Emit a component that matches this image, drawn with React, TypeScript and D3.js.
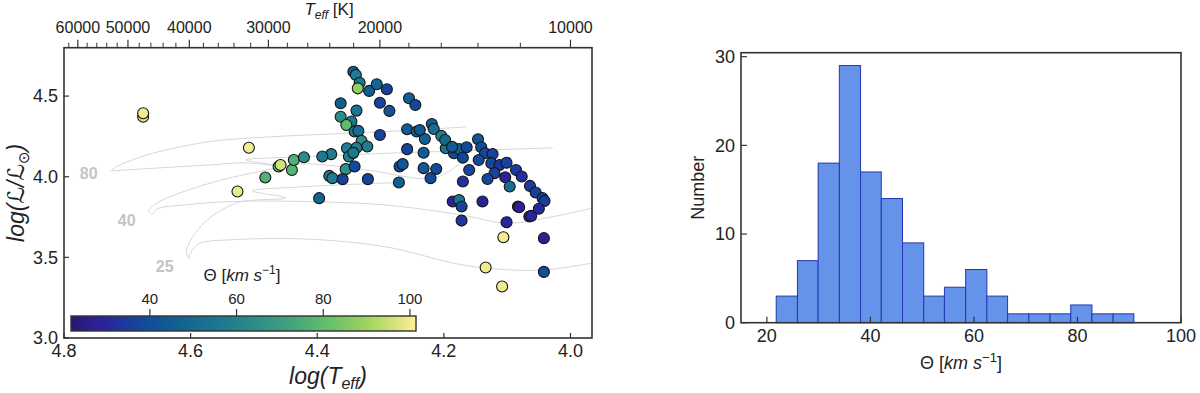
import React from 'react';
import * as d3 from 'd3';

// ---- scatter (HR diagram) ----
const logTeff = [
  4.675, 4.675, 4.508, 4.482, 4.526, 4.461, 4.458, 4.440, 4.437, 4.421, 4.397,
  4.343, 4.339, 4.333, 4.336, 4.318, 4.306, 4.290, 4.363, 4.301, 4.286, 4.255, 4.245,
  4.338, 4.363, 4.346, 4.354, 4.341, 4.335, 4.330, 4.321, 4.353, 4.338, 4.350, 4.343,
  4.301, 4.258, 4.243, 4.230, 4.219, 4.216, 4.204, 4.197, 4.184, 4.176, 4.170, 4.164,
  4.146, 4.141, 4.135, 4.123, 4.145, 4.160, 4.125, 4.112, 4.101, 4.086, 4.077, 4.064,
  4.055, 4.044, 4.041, 4.120, 4.131, 4.103, 4.096, 4.083, 4.170, 4.378, 4.392, 4.355,
  4.341, 4.381, 4.376, 4.360, 4.320, 4.271, 4.270, 4.265, 4.232, 4.212, 4.221, 4.232,
  4.258, 4.186, 4.176, 4.172, 4.139, 4.172, 4.101, 4.081, 4.065, 4.062, 4.050, 4.106,
  4.042, 4.134, 4.042, 4.108, 4.238, 4.198, 4.187,
];
const logLum = [
  4.372, 4.394, 4.180, 3.995, 3.908, 4.063, 4.073, 4.042, 4.104, 4.121, 3.867,
  4.651, 4.631, 4.583, 4.548, 4.532, 4.573, 4.542, 4.456, 4.459, 4.408, 4.487, 4.445,
  4.410, 4.372, 4.342, 4.321, 4.280, 4.284, 4.222, 4.187, 4.177, 4.180, 4.125, 4.148,
  4.259, 4.294, 4.280, 4.234, 4.327, 4.296, 4.253, 4.177, 4.146, 4.171, 4.118, 4.183,
  4.232, 4.183, 4.146, 4.141, 4.104, 4.042, 4.084, 4.073, 4.087, 4.042, 4.001, 3.943,
  3.902, 3.867, 3.850, 4.022, 3.986, 3.997, 3.939, 3.815, 3.970, 4.140, 4.125, 4.047,
  4.063, 4.005, 3.991, 3.985, 3.985, 3.964, 4.063, 4.078, 4.053, 4.048, 3.991, 4.149,
  4.171, 3.846, 3.856, 3.815, 3.846, 3.728, 3.718, 3.811, 3.753, 3.757, 3.801, 3.625,
  3.619, 3.437, 3.410, 3.319, 4.290, 4.228, 4.185,
];
const theta = [
  97, 100, 100, 76, 99, 80, 96, 78, 76, 64, 48,
  42, 58, 55, 88, 45, 48, 36, 46, 36, 43, 46, 38,
  54, 64, 56, 80, 56, 52, 64, 58, 58, 58, 60, 56,
  37, 44, 45, 46, 45, 52, 60, 54, 38, 45, 37, 38,
  43, 39, 38, 36, 38, 37, 37, 33, 36, 35, 32, 35,
  36, 36, 35, 37, 38, 28, 52, 27, 32, 58, 56, 66,
  38, 56, 58, 36, 37, 46, 38, 43, 43, 39, 38, 44,
  37, 28, 55, 37, 28, 34, 30, 28, 27, 29, 30, 100,
  28, 100, 40, 100, 44, 50, 44,
];

// ---- evolutionary tracks [log Teff, log L] ----
const track80Up = [
  [4.726, 4.036], [4.718, 4.061], [4.696, 4.098], [4.664, 4.141], [4.617, 4.185],
  [4.562, 4.222], [4.475, 4.247], [4.380, 4.265], [4.270, 4.284], [4.164, 4.309],
];
const track80Cross = [
  [4.726, 4.036], [4.648, 4.055], [4.570, 4.073], [4.516, 4.086], [4.459, 4.067],
  [4.513, 4.104], [4.427, 4.123], [4.301, 4.144], [4.175, 4.160], [4.028, 4.179],
];
const track40Up = [
  [4.661, 3.763], [4.666, 3.788], [4.655, 3.832], [4.633, 3.875], [4.598, 3.925],
  [4.551, 3.980], [4.494, 4.030], [4.427, 4.079], [4.322, 4.042], [4.217, 3.991], [4.175, 4.079],
];
const track40Cross = [
  [4.661, 3.763], [4.652, 3.801], [4.609, 3.825], [4.536, 3.846], [4.415, 3.846],
  [4.293, 3.825], [4.172, 3.763], [4.100, 3.712], [4.027, 3.753], [3.966, 3.805],
];
const track25Up = [
  [4.603, 3.495], [4.607, 3.534], [4.598, 3.621], [4.577, 3.720], [4.551, 3.794],
  [4.522, 3.844], [4.450, 3.869], [4.503, 3.912], [4.427, 3.937], [4.270, 3.964],
];
const track25Cross = [
  [4.603, 3.495], [4.597, 3.547], [4.585, 3.588], [4.537, 3.609], [4.415, 3.613],
  [4.294, 3.567], [4.172, 3.454], [4.100, 3.423], [4.039, 3.423], [3.966, 3.464],
];
const tracks = [track80Up, track80Cross, track40Up, track40Cross, track25Up, track25Cross];
const trackNames = ['80', '40', '25'];
const trackNameT = [4.761, 4.701, 4.641];
const trackNameL = [4.022, 3.732, 3.443];

const xTicks = [4.8, 4.6, 4.4, 4.2, 4.0];
const yTicks = [3.0, 3.5, 4.0, 4.5];
const teffMajor = [10000, 20000, 30000, 40000, 50000, 60000];
const cbarTicks = [40, 60, 80, 100];

// colormap (haline-like)
const cmapPos = [0, 0.09, 0.2, 0.32, 0.48, 0.62, 0.73, 0.87, 1];
const cmapColors = ['#2a186c', '#2b22a0', '#12489a', '#106392', '#23818e', '#3e9e80', '#5cbc6d', '#a6d65b', '#fdef9a'];

// ---- histogram ----
const binEdges = [21.8, 25.9, 29.9, 34.0, 38.1, 42.1, 46.2, 50.3, 54.3, 58.4, 62.5, 66.5, 70.6, 74.7, 78.7, 82.8, 86.9, 90.9];
const binCounts = [3, 7, 18, 29, 17, 14, 9, 3, 4, 6, 3, 1, 1, 1, 2, 1, 1];
const histXTicks = [20, 40, 60, 80, 100];
const histYTicks = [0, 10, 20, 30];

const FONT = 'Liberation Sans, Arial, DejaVu Sans, sans-serif';
const AX = '#333333';

export default function App() {
  // HR panel
  const x = d3.scaleLinear().domain([4.8, 3.966]).range([64, 592]);
  const y = d3.scaleLinear().domain([3.0, 4.8]).range([338, 47.7]);
  const [x0, x1] = x.range();
  const [y0, y1] = y.range();

  const cmap = d3.scaleLinear<string>().domain(cmapPos).range(cmapColors).interpolate(d3.interpolateRgb);
  const cnorm = d3.scaleLinear().domain([21.8, 101.4]).range([0, 1]).clamp(true);
  const color = (v: number) => cmap(cnorm(v));
  const cbx = d3.scaleLinear().domain([21.8, 101.4]).range([71, 416]);
  const cbTop = 316;
  const cbH = 15;

  const line = d3
    .line<number[]>()
    .x((d) => x(d[0]))
    .y((d) => y(d[1]))
    .curve(d3.curveCatmullRom.alpha(0.5));

  const teffMinor = d3.range(12000, 64000, 2000).filter((t) => !teffMajor.includes(t) && x(Math.log10(t)) >= x0);

  // histogram panel
  const hx = d3.scaleLinear().domain([15, 100]).range([741, 1181]);
  const hy = d3.scaleLinear().domain([0, 30.45]).range([322.7, 52.7]);

  const gradStops = d3.range(0, 1.0001, 0.05);

  return (
    <svg width={1200} height={393} style={{ position: 'absolute', left: 0, top: 0, background: '#fff' }} fontFamily={FONT}>
      <defs>
        <clipPath id="hrclip">
          <rect x={x0} y={y1} width={x1 - x0} height={y0 - y1} />
        </clipPath>
        <linearGradient id="cbar" x1="0" x2="1" y1="0" y2="0">
          {gradStops.map((t) => (
            <stop key={t} offset={t} stopColor={cmap(t)} />
          ))}
        </linearGradient>
      </defs>

      {/* tracks */}
      <g clipPath="url(#hrclip)">
        {tracks.map((t, i) => (
          <path key={i} d={line(t) || ''} fill="none" stroke="#d6d6d6" strokeWidth={1} />
        ))}
      </g>
      {trackNames.map((n, i) => (
        <text key={n} x={x(trackNameT[i])} y={y(trackNameL[i])} dy="0.35em" textAnchor="middle"
          fontSize={16} fontWeight="bold" fill="#c4c4c4">{n}</text>
      ))}

      {/* points */}
      <g clipPath="url(#hrclip)">
        {logTeff.map((t, i) => (
          <circle key={i} cx={x(t)} cy={y(logLum[i])} r={5.5} fill={color(theta[i])} stroke="#151515" strokeWidth={1.1} />
        ))}
      </g>

      {/* frame */}
      <rect x={x0} y={y1} width={x1 - x0} height={y0 - y1} fill="none" stroke={AX} strokeWidth={1.6} />

      {/* bottom ticks */}
      {xTicks.map((t) => (
        <g key={t}>
          <line x1={x(t)} x2={x(t)} y1={y0} y2={y0 - 5} stroke={AX} strokeWidth={1.2} />
          <text x={x(t)} y={y0 + 19} textAnchor="middle" fontSize={18} fill="#222">{t.toFixed(1)}</text>
        </g>
      ))}
      {yTicks.map((t) => (
        <g key={t}>
          <line x1={x0} x2={x0 + 5} y1={y(t)} y2={y(t)} stroke={AX} strokeWidth={1.2} />
          <text x={x0 - 6} y={y(t)} dy="0.35em" textAnchor="end" fontSize={18} fill="#222">{t.toFixed(1)}</text>
        </g>
      ))}

      {/* top Teff axis */}
      {teffMajor.map((t) => (
        <g key={t}>
          <line x1={x(Math.log10(t))} x2={x(Math.log10(t))} y1={y1} y2={y1 - 8} stroke={AX} strokeWidth={1.2} />
          <text x={x(Math.log10(t))} y={y1 - 15} textAnchor="middle" fontSize={16} fill="#222">{t}</text>
        </g>
      ))}
      {teffMinor.map((t) => (
        <line key={t} x1={x(Math.log10(t))} x2={x(Math.log10(t))} y1={y1} y2={y1 - 5} stroke={AX} strokeWidth={1} />
      ))}
      <text x={329} y={15} textAnchor="middle" fontSize={17} fill="#222">
        <tspan fontStyle="italic">T</tspan>
        <tspan fontStyle="italic" fontSize={12} dy={4}>eff</tspan>
        <tspan dy={-4}> [K]</tspan>
      </text>

      {/* axis labels */}
      <text x={(x0 + x1) / 2} y={384} textAnchor="middle" fontSize={23} fontStyle="italic" fill="#222">
        log(T<tspan fontSize={16} dy={5}>eff</tspan><tspan dy={-5}>)</tspan>
      </text>
      <text transform={`translate(24,${(y0 + y1) / 2}) rotate(-90)`} textAnchor="middle" fontSize={23} fontStyle="italic" fill="#222">
        log(ℒ/ℒ<tspan fontSize={15} dy={5}>⊙</tspan><tspan dy={-5}>)</tspan>
      </text>

      {/* colorbar */}
      <rect x={cbx.range()[0]} y={cbTop} width={cbx.range()[1] - cbx.range()[0]} height={cbH} fill="url(#cbar)" stroke={AX} strokeWidth={1.4} />
      {cbarTicks.map((t) => (
        <g key={t}>
          <line x1={cbx(t)} x2={cbx(t)} y1={cbTop} y2={cbTop - 7} stroke={AX} strokeWidth={1.2} />
          <text x={cbx(t)} y={cbTop - 12} textAnchor="middle" fontSize={15} fill="#222">{t}</text>
        </g>
      ))}
      <text x={242} y={281} textAnchor="middle" fontSize={17} fill="#222">
        Θ [<tspan fontStyle="italic">km s</tspan><tspan fontSize={12} dy={-7}>−1</tspan><tspan dy={7}>]</tspan>
      </text>

      {/* histogram */}
      {binCounts.map((c, i) => (
        <rect key={i} x={hx(binEdges[i])} y={hy(c)} width={hx(binEdges[i + 1]) - hx(binEdges[i])} height={hy(0) - hy(c)}
          fill="#6693ea" stroke="#2338b0" strokeWidth={1} />
      ))}
      {histXTicks.map((t) => (
        <g key={t}>
          <line x1={hx(t)} x2={hx(t)} y1={hy(0)} y2={hy(0) - 6} stroke={AX} strokeWidth={1.2} />
          <text x={hx(t)} y={hy(0) + 19} textAnchor="middle" fontSize={18} fill="#222">{t}</text>
        </g>
      ))}
      {histYTicks.map((t) => (
        <g key={t}>
          <line x1={hx(15)} x2={hx(15) + 6} y1={hy(t)} y2={hy(t)} stroke={AX} strokeWidth={1.2} />
          <text x={hx(15) - 6} y={hy(t)} dy="0.35em" textAnchor="end" fontSize={18} fill="#222">{t}</text>
        </g>
      ))}
      <rect x={hx(15)} y={hy(30.45)} width={hx(100) - hx(15)} height={hy(0) - hy(30.45)} fill="none" stroke={AX} strokeWidth={1.6} />
      <text transform={`translate(704,${(hy(0) + hy(30.45)) / 2}) rotate(-90)`} textAnchor="middle" fontSize={18} fill="#222">Number</text>
      <text x={(hx(15) + hx(100)) / 2} y={369} textAnchor="middle" fontSize={18} fill="#222">
        Θ [<tspan fontStyle="italic">km s</tspan><tspan fontSize={13} dy={-7}>−1</tspan><tspan dy={7}>]</tspan>
      </text>
    </svg>
  );
}
